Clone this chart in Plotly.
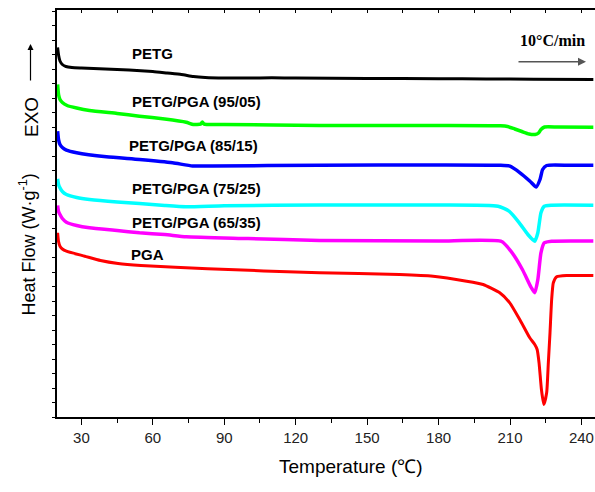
import plotly.graph_objects as go

# ---------------- data (heat flow in arbitrary units, offset per sample) ----------------
T_petg = [20, 20.4, 21, 22, 23.5, 26, 30, 40, 50, 60, 66, 72, 77, 82, 90, 100, 110, 120, 150, 180, 200, 220, 245]
hf_petg = [369.5, 362, 356, 352.5, 350.5, 349.5, 349, 348, 347, 345.5, 344, 342.5, 340.5, 339.5, 339, 339, 339.2,
           339, 338.5, 338.3, 338, 337.8, 337.5]

T_9505 = [20, 20.4, 21, 22, 24, 28, 33.4, 45, 54.4, 65, 74, 77, 80, 80.8, 81.6, 90, 130, 180, 206, 209, 212, 215,
          218, 220.5, 222, 223, 224.5, 230, 245]
hf_9505 = [332.5, 322.5, 317.5, 314.5, 311.5, 309, 306.5, 303.5, 300.8, 298, 294.8, 292.5, 292.8, 295, 292.8, 292.5,
           291.5, 291.5, 291.2, 290.5, 288, 285.5, 283, 282.5, 284, 287.5, 290, 290, 289.8]

T_8515 = [20, 20.4, 21, 22, 23.7, 28, 40.5, 54.4, 68.3, 76.7, 85, 130, 180, 206, 210, 214.2, 218.4, 221, 222.6,
          223.7, 225.4, 235, 245]
hf_8515 = [285.8, 277.5, 272.5, 269.5, 266.8, 264.2, 260.2, 257.5, 254.2, 251, 251, 251.8, 252, 251.7, 250.8, 244.2,
           235.8, 230, 237.5, 247.5, 251.5, 251.7, 251.8]

T_7525 = [20, 20.4, 21, 22, 23.7, 28, 33.4, 45, 54.4, 65, 74, 90, 130, 180, 205, 209.6, 213.9, 217.5, 220.4, 221.7,
          223, 224.4, 227.5, 245]
hf_7525 = [238.2, 232.5, 229.2, 225.5, 222.5, 219.5, 217.5, 215, 213.5, 211.5, 210.2, 211.3, 212, 212, 210.8, 205.8,
           194.2, 182.5, 175.8, 184.2, 204.2, 210.8, 211.8, 211.8]

T_6535 = [20, 20.4, 21, 22, 23.7, 28, 33.4, 45, 54.4, 65, 74, 100, 130, 180, 206.5, 210.8, 215.2, 218.9, 220.4,
          221.7, 223, 224.4, 227.5, 245]
hf_6535 = [211.5, 205.5, 202.5, 198.5, 194.8, 191.5, 189.2, 186.5, 184.2, 182.5, 180.2, 178.5, 176.5, 176, 175.5,
           164.5, 147.5, 129.5, 124.2, 137.5, 164.2, 174.2, 175.8, 176]

T_pga = [20, 20.4, 21, 22, 23.7, 31.4, 38, 45.4, 55, 83, 130, 163.6, 177.7, 191.8, 198.7, 205.7, 209.9, 214.1,
         218.3, 220.4, 221.4, 222.2, 223.2, 224.2, 225.4, 226.1, 226.8, 227.5, 228.2, 229.6, 233.8, 245]
hf_pga = [184.2, 175.5, 170.8, 168, 165.8, 160.8, 156.5, 153.5, 151.5, 148.2, 144.2, 142.5, 140.8, 135.8, 132.5,
          124.2, 114.2, 97.5, 79.2, 72.5, 67.5, 54.2, 27.5, 12.5, 24.2, 54.2, 84.2, 117.5, 134.2, 140.2, 141.5, 141.5]

names = ["PETG", "PETG/PGA (95/05)", "PETG/PGA (85/15)", "PETG/PGA (75/25)", "PETG/PGA (65/35)", "PGA"]
colors = ["#000000", "#00ff00", "#0000ff", "#00ffff", "#ff00ff", "#ff0000"]
widths = [3, 3.5, 3.5, 3.5, 3.5, 3]
series_T = [T_petg, T_9505, T_8515, T_7525, T_6535, T_pga]
series_hf = [hf_petg, hf_9505, hf_8515, hf_7525, hf_6535, hf_pga]

# label anchor positions (temperature, heat flow units)
label_T = [50.2, 50.2, 49.1, 50.2, 50.2, 49.9]
label_hf = [364, 316, 271.5, 228.5, 194.5, 162.5]

X_RANGE = [19.75, 245.7]
Y_RANGE = [0, 407]

# ---------------- figure ----------------
W, H = 595, 492
ML, MR, MT, MB = 57, 0, 10, 75
PW, PH = W - ML - MR, H - MT - MB


def px(x):
    return (x - ML) / PW


def py(y):
    return (H - MB - y) / PH


fig = go.Figure()
for t, hf, c, w, n in zip(series_T, series_hf, colors, widths, names):
    fig.add_trace(go.Scatter(x=t, y=hf, mode="lines", name=n,
                             line=dict(color=c, width=w, shape="spline", smoothing=0.5),
                             showlegend=False, hoverinfo="skip"))
# empty trace to realise the top mirror axis
fig.add_trace(go.Scatter(x=[], y=[], xaxis="x2", showlegend=False))

for n, lt, lh in zip(names, label_T, label_hf):
    fig.add_annotation(x=lt, y=lh, text="<b>%s</b>" % n, showarrow=False, xanchor="left", yanchor="middle",
                       font=dict(family="Liberation Sans, Arial", size=15, color="#000"))

# heating rate note
fig.add_annotation(xref="paper", yref="paper", x=px(552), y=py(40), text="<b>10°C/min</b>", showarrow=False,
                   xanchor="center", yanchor="middle",
                   font=dict(family="Liberation Serif, Times New Roman", size=16, color="#000"))
fig.add_annotation(xref="paper", yref="paper", x=px(586), y=py(61.7), ax=-69, ay=0, text="", showarrow=True,
                   arrowhead=2, arrowsize=1, arrowwidth=1.6, arrowcolor="#555555")

# EXO arrow
fig.add_annotation(xref="paper", yref="paper", x=px(31), y=py(117), text="EXO", textangle=-90, showarrow=False,
                   xanchor="center", yanchor="middle",
                   font=dict(family="Liberation Sans, Arial", size=19, color="#000"))
fig.add_annotation(xref="paper", yref="paper", x=px(30.5), y=py(44), ax=0, ay=38, text="", showarrow=True,
                   arrowhead=2, arrowsize=1, arrowwidth=1.2, arrowcolor="#000")

# axis titles
fig.add_annotation(xref="paper", yref="paper", x=px(27.5), y=py(245), text="Heat Flow (W·g<sup>-1</sup>)",
                   textangle=-90, showarrow=False, xanchor="center", yanchor="middle",
                   font=dict(family="Liberation Sans, Arial", size=18, color="#000"))
fig.add_annotation(xref="paper", yref="paper", x=px(351), y=py(466), text="Temperature (℃)",
                   showarrow=False, xanchor="center", yanchor="middle",
                   font=dict(family="Liberation Sans, Arial", size=19, color="#000"))

fig.update_layout(
    width=W, height=H, margin=dict(l=ML, r=MR, t=MT, b=MB),
    paper_bgcolor="white", plot_bgcolor="white",
    xaxis=dict(range=X_RANGE, showgrid=False, zeroline=False, showline=True, linecolor="#000", linewidth=2,
               ticks="outside", tick0=30, dtick=30, ticklen=6, tickwidth=1.3, tickcolor="#000",
               minor=dict(ticks="outside", dtick=15, tick0=15, ticklen=4, tickwidth=1.3, tickcolor="#000"),
               tickfont=dict(family="Liberation Sans, Arial", size=15, color="#222")),
    xaxis2=dict(range=X_RANGE, overlaying="x", side="top", anchor="y", showgrid=False, zeroline=False,
                showline=True, linecolor="#000", linewidth=1.5, ticks="inside", tick0=0, dtick=15, ticklen=3,
                tickwidth=1, tickcolor="#000", showticklabels=False),
    yaxis=dict(range=Y_RANGE, showgrid=False, zeroline=False, showline=True, linecolor="#000", linewidth=2,
               ticks="outside", tick0=0, dtick=14.5, ticklen=3, tickwidth=1, tickcolor="#000",
               showticklabels=False),
)

fig.write_html("out.html")
